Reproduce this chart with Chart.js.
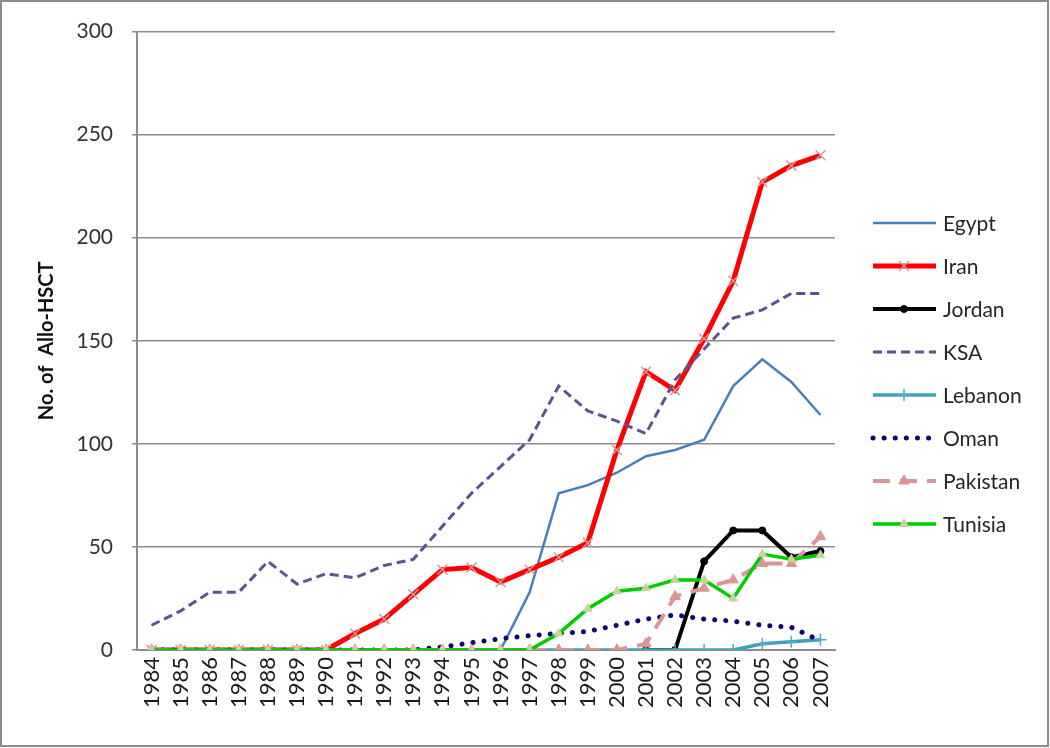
<!DOCTYPE html>
<html lang="en">
<head>
  <meta charset="UTF-8">
  <title>Allo-HSCT by country</title>
  <script src="https://cdn.jsdelivr.net/npm/chart.js"></script>
  <style>
    html,body{margin:0;background:#fff;}
    #wrap{width:1050px;height:748px;}
  </style>
</head>
<body>
  <div id="wrap"><canvas id="chart" width="1050" height="748"></canvas></div>

  <script>
    /* ——— DATA ——— */
    const years = ['1984','1985','1986','1987','1988','1989','1990','1991','1992','1993','1994','1995',
                   '1996','1997','1998','1999','2000','2001','2002','2003','2004','2005','2006','2007'];

    const egypt    = [0,0,0,0,0,0,0,0,0,0,0,0,0,28,76,80,86,94,97,102,128,141,130,114];
    const iran     = [0,0,0,0,0,0,0,8,15,27,39,40,33,39,45,52,97,135,126,151,179,227,235,240];
    const jordan   = [null,null,null,null,null,null,null,null,null,null,null,null,null,null,null,null,null,0,0,43,58,58,45,48];
    const ksa      = [12,19,28,28,43,32,37,35,41,44,60,76,89,102,128,116,111,105,131,146,161,165,173,173];
    const lebanon  = [0,0,0,0,0,0,0,0,0,0,0,0,0,0,0,0,0,0,0,0,0,3,4,5];
    const oman     = [0,0,0,0,0,0,0,0,0,0,1.5,3.5,5.5,7,8,9,12,15,17,15,14,12,11,4.5];
    const pakistan = [0,0,0,0,0,0,0,0,0,0,0,0,0,0,0,0,0,3,26,30,34,42,42,55];
    const tunisia  = [0,0,0,0,0,0,0,0,0,0,0,0,0,0,8,20,28.5,30,34,34,25,46.5,44,46];

    const yTicks = {min:0, max:300, step:50};
    const FONT = 'Lato';

    /* ——— PLUGINS ——— */
    // white background + grey frame round the whole picture
    const framePlugin = {
      id:'frame',
      beforeDraw(chart){
        const c = chart.ctx;
        c.save();
        c.fillStyle = '#fff';
        c.fillRect(0,0,chart.width,chart.height);
        c.strokeStyle = '#8c8c8c';
        c.lineWidth = 2;
        c.strokeRect(1,1,chart.width-3,chart.height-3);
        c.restore();
      }
    };

    // Excel-like legend on the right: line sample with marker in the middle
    const sideLegend = {
      id:'sideLegend',
      afterDraw(chart){
        const c = chart.ctx;
        chart.data.datasets.forEach((ds,i)=>{
          const y = 223 + i*43;
          c.save();
          c.strokeStyle = ds.borderColor;
          c.lineWidth = ds.borderWidth;
          c.lineCap = ds.borderCapStyle || 'butt';
          c.setLineDash(ds.borderDash || []);
          c.beginPath(); c.moveTo(873,y); c.lineTo(936,y); c.stroke();
          c.setLineDash([]);
          if(ds.pointRadius > 0){
            c.fillStyle = ds.pointBackgroundColor;
            c.strokeStyle = ds.pointBorderColor;
            c.lineWidth = ds.pointBorderWidth;
            Chart.helpers.drawPoint(c,{pointStyle:ds.pointStyle, radius:ds.pointRadius, borderWidth:ds.pointBorderWidth, rotation:0},904,y);
          }
          c.fillStyle = '#262626';
          c.font = '21px ' + FONT;
          c.textBaseline = 'middle';
          c.fillText(ds.label,943,y+1);
          c.restore();
        });
      }
    };

    /* ——— CHART ——— */
    const line = (label,data,color,width,extra) => Object.assign({
      label, data,
      borderColor:color, backgroundColor:color, borderWidth:width,
      pointRadius:0, tension:0, fill:false, spanGaps:false
    }, extra);

    new Chart(document.getElementById('chart'),{
      type:'line',
      data:{
        labels:years,
        datasets:[
          line('Egypt',egypt,'#4a7ebb',2.5,{order:8}),
          line('Iran',iran,'#ff0000',5,{order:7, pointStyle:'crossRot', pointRadius:7,
               pointBorderColor:'#d99694', pointBackgroundColor:'#d99694', pointBorderWidth:1.5}),
          line('Jordan',jordan,'#000000',4,{order:6, pointStyle:'circle', pointRadius:3.5,
               pointBorderColor:'#000', pointBackgroundColor:'#000', pointBorderWidth:1}),
          line('KSA',ksa,'#65508f',3,{order:5, borderDash:[9,5]}),
          line('Lebanon',lebanon,'#3fa0bb',3.5,{order:4, pointStyle:'cross', pointRadius:6,
               pointBorderColor:'#4bacc6', pointBackgroundColor:'#4bacc6', pointBorderWidth:1.5}),
          line('Oman',oman,'#0a0a6e',5,{order:3, borderDash:[0.1,11], borderCapStyle:'round'}),
          line('Pakistan',pakistan,'#d99694',4,{order:2, borderDash:[17,10], pointStyle:'triangle', pointRadius:6,
               pointBorderColor:'#d99694', pointBackgroundColor:'#d99694', pointBorderWidth:1}),
          line('Tunisia',tunisia,'#00cc00',3.5,{order:1, pointStyle:'triangle', pointRadius:5,
               pointBorderColor:'#c3d69b', pointBackgroundColor:'#c3d69b', pointBorderWidth:1})
        ]
      },
      options:{
        responsive:false,
        devicePixelRatio:1,
        animation:false,
        layout:{padding:{left:0, top:27, right:215, bottom:0}},
        plugins:{legend:{display:false}, tooltip:{enabled:false}},
        scales:{
          x:{
            offset:true,
            grid:{display:false, drawTicks:false, offset:true},
            border:{color:'#8c8c8c', width:2},
            ticks:{autoSkip:false, minRotation:90, maxRotation:90, padding:7,
                   color:'#1a1a1a', font:{family:FONT, size:22}},
            afterFit(s){ s.height = 98; }
          },
          y:{
            min:yTicks.min, max:yTicks.max,
            ticks:{stepSize:yTicks.step, padding:19, color:'#333', font:{family:FONT, size:21}},
            grid:{color:'#8c8c8c', lineWidth:1.5, tickLength:5},
            border:{color:'#8c8c8c', width:2},
            title:{display:true, text:'No. of  Allo-HSCT', color:'#111',
                   font:{family:FONT, size:20, weight:'bold'}, padding:{top:35, bottom:0}},
            afterFit(s){ s.width = 137; }
          }
        }
      },
      plugins:[framePlugin, sideLegend]
    });
  </script>
</body>
</html>
